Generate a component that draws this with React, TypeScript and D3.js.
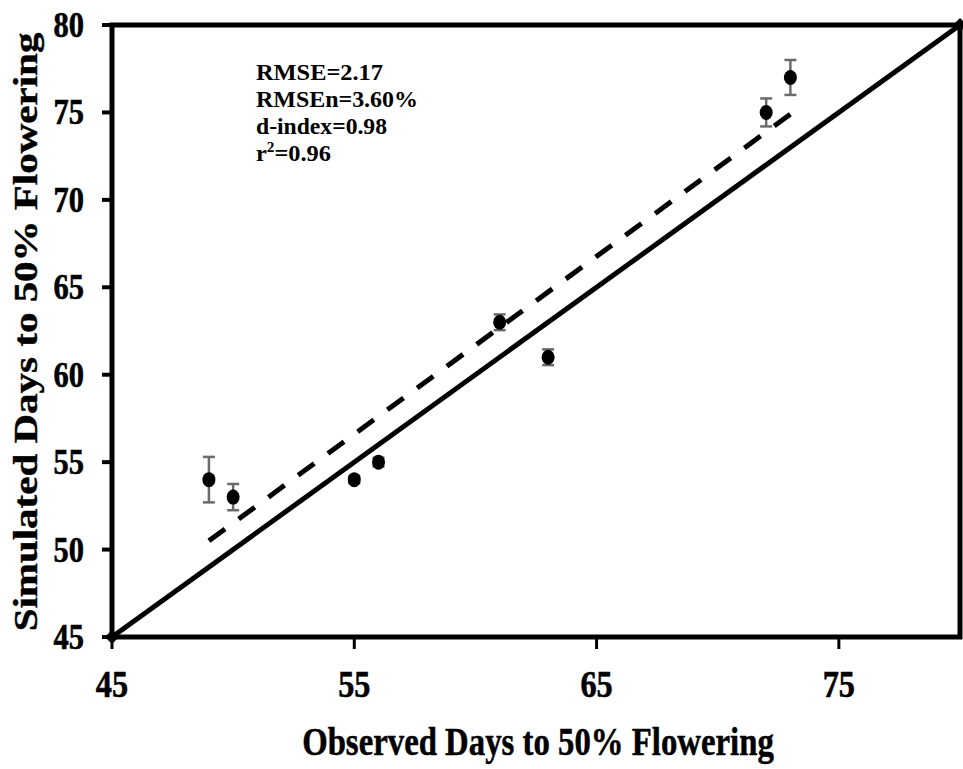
import React, { useRef, useEffect } from 'react';
import * as d3 from 'd3';

// observed vs simulated days to 50% flowering
const observed = [49, 50, 55, 56, 61, 63, 72, 73];
const simulated = [54, 53, 54, 55, 63, 61, 75, 77];
const errors = [1.3, 0.75, 0.2, 0.25, 0.45, 0.45, 0.8, 1.0];

// fitted regression line (dashed) and 1:1 line endpoints
const fitX = [49, 73];
const fitY = [50.5, 74.9];
const oneToOne = [45, 80];

const xTicks = [45, 55, 65, 75];
const yTicks = [45, 50, 55, 60, 65, 70, 75, 80];

const statsLines = ['RMSE=2.17', 'RMSEn=3.60%', 'd-index=0.98', 'r2=0.96'];
const statsWidths = [127, 162, 131, 75];

const FONT = '"Liberation Serif", "Times New Roman", serif';

function App() {
  const ref = useRef<SVGSVGElement | null>(null);

  useEffect(() => {
    const width = 963;
    const height = 769;
    const left = 112;
    const right = 960;
    const top = 25;
    const bottom = 637;

    const x = d3.scaleLinear().domain([45, 80]).range([left, right]);
    const y = d3.scaleLinear().domain([45, 80]).range([bottom, top]);

    const svg = d3.select(ref.current);
    svg.selectAll('*').remove();
    svg.attr('width', width).attr('height', height);

    svg.append('rect').attr('width', width).attr('height', height).attr('fill', '#fff');

    // frame
    svg.append('rect')
      .attr('x', left)
      .attr('y', top)
      .attr('width', right - left)
      .attr('height', bottom - top)
      .attr('fill', 'none')
      .attr('stroke', '#000')
      .attr('stroke-width', 5);

    // y ticks
    svg.selectAll('.ytick')
      .data(yTicks)
      .enter()
      .append('line')
      .attr('x1', left - 10)
      .attr('x2', left)
      .attr('y1', (d) => y(d))
      .attr('y2', (d) => y(d))
      .attr('stroke', '#000')
      .attr('stroke-width', 4);

    svg.selectAll('.ylabel')
      .data(yTicks)
      .enter()
      .append('text')
      .attr('transform', (d) => `translate(84, ${y(d) + 12}) scale(0.87, 1)`)
      .attr('text-anchor', 'end')
      .attr('stroke', '#000')
      .attr('stroke-width', 0.6)
      .style('font-family', FONT)
      .style('font-weight', 'bold')
      .style('font-size', '35px')
      .text((d) => d);

    // x ticks
    svg.selectAll('.xtick')
      .data(xTicks)
      .enter()
      .append('line')
      .attr('x1', (d) => x(d))
      .attr('x2', (d) => x(d))
      .attr('y1', bottom)
      .attr('y2', bottom + 12)
      .attr('stroke', '#000')
      .attr('stroke-width', 3);

    svg.selectAll('.xlabel')
      .data(xTicks)
      .enter()
      .append('text')
      .attr('transform', (d) => `translate(${x(d)}, 697) scale(0.85, 1)`)
      .attr('text-anchor', 'middle')
      .attr('stroke', '#000')
      .attr('stroke-width', 0.6)
      .style('font-family', FONT)
      .style('font-weight', 'bold')
      .style('font-size', '38px')
      .text((d) => d);

    // axis titles
    svg.append('text')
      .attr('transform', 'translate(538, 755) scale(0.82, 1)')
      .attr('text-anchor', 'middle')
      .attr('stroke', '#000')
      .attr('stroke-width', 0.5)
      .style('font-family', FONT)
      .style('font-weight', 'bold')
      .style('font-size', '40px')
      .text('Observed Days to 50% Flowering');

    svg.append('text')
      .attr('transform', 'translate(37, 332) rotate(-90) scale(1, 0.8)')
      .attr('text-anchor', 'middle')
      .attr('stroke', '#000')
      .attr('stroke-width', 0.5)
      .style('font-family', FONT)
      .style('font-weight', 'bold')
      .style('font-size', '41px')
      .text('Simulated Days to 50% Flowering');

    const line = d3.line<[number, number]>()
      .x((d) => x(d[0]))
      .y((d) => y(d[1]));

    // 1:1 line
    svg.append('path')
      .attr('d', line(oneToOne.map((v) => [v, v] as [number, number])))
      .attr('stroke', '#000')
      .attr('stroke-width', 5)
      .attr('fill', 'none');

    svg.selectAll('.diamond')
      .data(oneToOne)
      .enter()
      .append('rect')
      .attr('x', -5)
      .attr('y', -5)
      .attr('width', 10)
      .attr('height', 10)
      .attr('transform', (d) => `translate(${x(d)}, ${y(d)}) rotate(45)`)
      .attr('fill', '#000');

    // regression line
    svg.append('path')
      .attr('d', line(fitX.map((v, i) => [v, fitY[i]] as [number, number])))
      .attr('stroke', '#000')
      .attr('stroke-width', 5)
      .attr('stroke-dasharray', '20 16.9')
      .attr('fill', 'none');

    // error bars
    const eb = svg.append('g').attr('stroke', '#6b6b6b').attr('stroke-width', 2.5);
    observed.forEach((o, i) => {
      const cx = x(o);
      const y1 = y(simulated[i] + errors[i]);
      const y2 = y(simulated[i] - errors[i]);
      eb.append('line').attr('x1', cx).attr('x2', cx).attr('y1', y1).attr('y2', y2);
      eb.append('line').attr('x1', cx - 6).attr('x2', cx + 6).attr('y1', y1).attr('y2', y1);
      eb.append('line').attr('x1', cx - 6).attr('x2', cx + 6).attr('y1', y2).attr('y2', y2);
    });

    // points
    svg.selectAll('.pt')
      .data(observed)
      .enter()
      .append('ellipse')
      .attr('cx', (d) => x(d))
      .attr('cy', (d, i) => y(simulated[i]))
      .attr('rx', 6.5)
      .attr('ry', 7.5)
      .attr('fill', '#000');

    // stats
    const stats = svg.append('g')
      .style('font-family', FONT)
      .style('font-weight', 'bold')
      .style('font-size', '24px');
    statsLines.forEach((s, i) => {
      const t = stats.append('text')
        .attr('x', 256)
        .attr('y', 80 + i * 27)
        .attr('textLength', statsWidths[i])
        .attr('lengthAdjust', 'spacingAndGlyphs');
      if (s.startsWith('r2')) {
        t.append('tspan').text('r');
        t.append('tspan').attr('dy', -9).style('font-size', '15px').text('2');
        t.append('tspan').attr('dy', 9).text(s.slice(2));
      } else {
        t.text(s);
      }
    });

    return () => {
      svg.selectAll('*').remove();
    };
  }, []);

  return (
    <svg ref={ref} style={{ position: 'absolute', left: 0, top: 0, display: 'block' }} />
  );
}

export default App;
